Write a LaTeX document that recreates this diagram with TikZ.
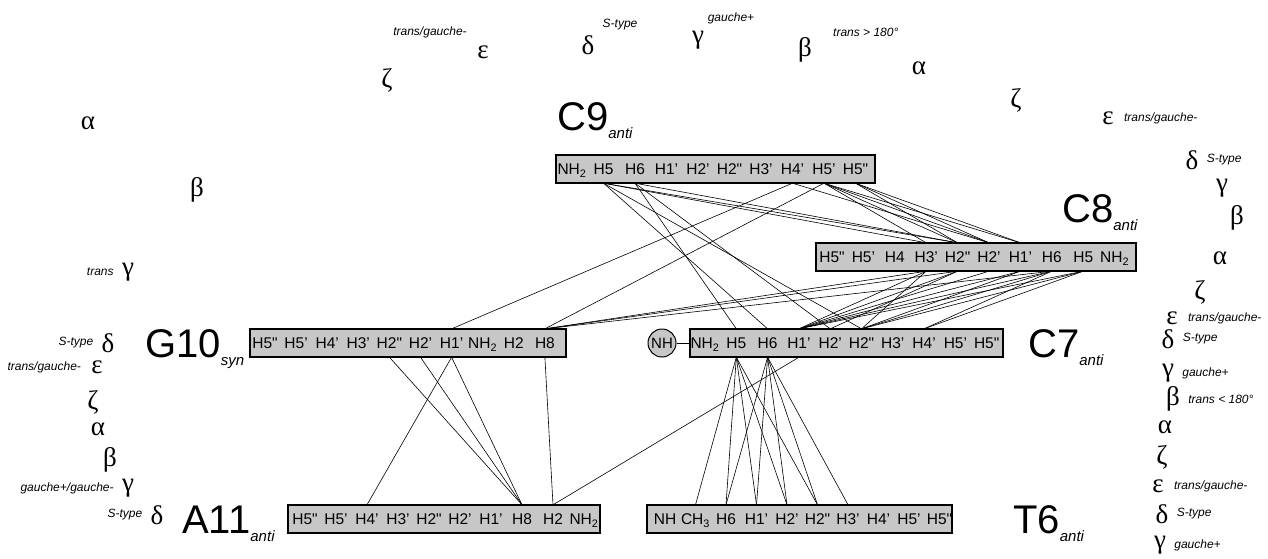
\documentclass[tikz,border=0pt]{standalone}
\usepackage{fontspec}
\setmainfont{Liberation Sans}
\newfontfamily\grkfont{Liberation Serif}
\usetikzlibrary{positioning, calc, shadows}
\tikzstyle{noe} = [line width=0.6pt, black]
\newcommand{\dq}{\textquotedbl}

\begin{document}
\begin{tikzpicture}[x=1pt, y=-1pt,
    resbox/.style={rectangle, draw=black, fill=black!22, line width=1.1pt,
                   minimum height=28pt, inner sep=0pt,
                   drop shadow={shadow xshift=1.2pt, shadow yshift=-1.2pt, fill=black, opacity=0.8}},
    hatom/.style={inner sep=0pt, minimum height=28pt, text height=11pt, text depth=0pt,
                  font=\fontsize{15.5}{15.5}\selectfont},
    resname/.style={anchor=base west, inner sep=0pt, font=\fontsize{40}{40}\selectfont},
    torsion/.style={inner sep=0pt, font=\grkfont\fontsize{27}{27}\selectfont},
    conf/.style={inner sep=0pt, font=\itshape\fontsize{12}{12}\selectfont}
]
\useasboundingbox (0,0) rectangle (1268,558);

% Residue C9 - top
\node[resbox, minimum width=319pt] (c9box) at (715.5,169) {};
\foreach \t [count=\i] in {NH\textsubscript{2},H5,H6,H1',H2',H2\dq,H3',H4',H5',H5\dq}
  \node[hatom] (c9-\i) at ({572+(\i-1)*31.5},169) {\t};
\node[resname] (c9name) at (557,130) {C9\raisebox{-8pt}{\fontsize{15}{15}\itshape anti}};

% Residue C8
\node[resbox, minimum width=320pt] (c8box) at (976,257) {};
\foreach \t [count=\i] in {H5\dq,H5',H4,H3',H2\dq,H2',H1',H6,H5,NH\textsubscript{2}}
  \node[hatom] (c8-\i) at ({832+(\i-1)*31.4},257) {\t};
\node[resname] (c8name) at (1062,222) {C8\raisebox{-8pt}{\fontsize{15}{15}\itshape anti}};

% Residue G10
\node[resbox, minimum width=316pt] (g10box) at (408,343) {};
\foreach \t [count=\i] in {H5\dq,H5',H4',H3',H2\dq,H2',H1',NH\textsubscript{2},H2,H8}
  \node[hatom] (g10-\i) at ({265+(\i-1)*31.1},343) {\t};
\node[resname] (g10name) at (145,357) {G10\raisebox{-8pt}{\fontsize{15}{15}\itshape syn}};

% Residue C7
\node[resbox, minimum width=313pt] (c7box) at (846.5,343) {};
\foreach \t [count=\i] in {NH\textsubscript{2},H5,H6,H1',H2',H2\dq,H3',H4',H5',H5\dq}
  \node[hatom] (c7-\i) at ({705+(\i-1)*31.3},343) {\t};
\node[circle, draw=black, fill=black!22, minimum size=28pt, inner sep=0pt, line width=1pt,
      font=\fontsize{15}{15}\selectfont] (nh) at (662,343) {NH};
\draw[line width=1pt] (nh) -- (c7box.west);
\node[resname] (c7name) at (1028,357) {C7\raisebox{-8pt}{\fontsize{15}{15}\itshape anti}};

% Residue A11 - bottom
\node[resbox, minimum width=312pt] (a11box) at (444,519) {};
\foreach \t [count=\i] in {H5\dq,H5',H4',H3',H2\dq,H2',H1',H8,H2,NH\textsubscript{2}}
  \node[hatom] (a11-\i) at ({305+(\i-1)*31},519) {\t};
\node[resname] (a11name) at (182,533) {A11\raisebox{-8pt}{\fontsize{15}{15}\itshape anti}};

% Residue T6
\node[resbox, minimum width=305pt] (t6box) at (799.5,519) {};
\foreach \t [count=\i] in {NH,CH\textsubscript{3},H6,H1',H2',H2\dq,H3',H4',H5',H5\dq}
  \node[hatom] (t6-\i) at ({665+(\i-1)*30.5},519) {\t};
\node[resname] (t6name) at (1013,533) {T6\raisebox{-8pt}{\fontsize{15}{15}\itshape anti}};

% Backbone torsions - top arc
\node[torsion] (ta1) at (88,123) {α};
\node[torsion] (tb1) at (197,190) {β};
\node[torsion] (tg1) at (128,272) {γ};
\node[conf, left=8pt of tg1] {trans};
\node[torsion] (tz2) at (387,80) {ζ};
\node[torsion] (te2) at (483,52) {ε};
\node[conf] at (430,32) {trans/gauche-};
\node[torsion] (td2) at (588,45) {δ};
\node[conf] at (620,25) {S-type};
\node[torsion] (tg2) at (698,40) {γ};
\node[conf] at (731,18) {gauche+};
\node[torsion] (tb2) at (805,50) {β};
\node[conf, anchor=west] at (833,32) {trans > 180°};
\node[torsion] (ta2) at (919,68) {α};
\node[torsion] (tz3) at (1016,100) {ζ};
\node[torsion] (te3) at (1108,118) {ε};
\node[conf, right=10pt of te3] {trans/gauche-};
\node[torsion] (td3) at (1192,160) {δ};
\node[conf, right=8pt of td3] {S-type};
\node[torsion] (tg3) at (1222,188) {γ};
\node[torsion] (tb3) at (1237,218) {β};
\node[torsion] (ta3) at (1220,258) {α};
\node[torsion] (tz4) at (1200,292) {ζ};
\node[torsion] (te4) at (1172,318) {ε};
\node[conf, right=10pt of te4] {trans/gauche-};
\node[torsion] (td4) at (1168,339) {δ};
\node[conf, right=8pt of td4] {S-type};
\node[torsion] (tg4) at (1168,373) {γ};
\node[conf, right=8pt of tg4] {gauche+};
\node[torsion] (tb4) at (1173,399) {β};
\node[conf, right=8pt of tb4] {trans < 180°};
\node[torsion] (ta4) at (1165,427) {α};
\node[torsion] (tz5) at (1162,457) {ζ};
\node[torsion] (te5) at (1158,486) {ε};
\node[conf, right=10pt of te5] {trans/gauche-};
\node[torsion] (td5) at (1162,514) {δ};
\node[conf, right=8pt of td5] {S-type};
\node[torsion] (tg5) at (1160,545) {γ};
\node[conf, right=8pt of tg5] {gauche+};

% Backbone torsions - left column
\node[torsion] (td6) at (108,343) {δ};
\node[conf, left=8pt of td6] {S-type};
\node[torsion] (te6) at (97,367) {ε};
\node[conf, left=10pt of te6] {trans/gauche-};
\node[torsion] (tz6) at (93,402) {ζ};
\node[torsion] (ta6) at (98,429) {α};
\node[torsion] (tb6) at (110,460) {β};
\node[torsion] (tg6) at (128,488) {γ};
\node[conf, left=8pt of tg6] {gauche+/gauche-};
\node[torsion] (td7) at (157,515) {δ};
\node[conf, left=8pt of td7] {S-type};

% NOE contacts
\foreach \a/\b in {c9-2/c8-4, c9-2/c8-5, c9-3/c8-5, c9-8/c8-6, c9-9/c8-4, c9-9/c8-5,
                   c9-9/c8-6, c9-9/c8-7, c9-10/c8-5, c9-10/c8-6, c9-10/c8-7,
                   c9-2/c7-3, c9-2/c7-6, c9-3/c7-2, c9-3/c7-5,
                   c9-8/g10-7, c9-9/g10-10,
                   c8-4/c7-4, c8-5/c7-4, c8-6/c7-4, c8-7/c7-4, c8-8/c7-4, c8-9/c7-4,
                   c8-4/c7-6, c8-5/c7-5, c8-7/c7-6, c8-8/c7-6, c8-9/c7-6, c8-8/c7-8, c8-9/c7-8,
                   c8-4/g10-10, c8-5/g10-10, c8-8/g10-10,
                   g10-5/a11-8, g10-6/a11-8, g10-7/a11-3, g10-7/a11-8, g10-10/a11-9,
                   c7-4/a11-9,
                   c7-2/t6-2, c7-2/t6-3, c7-2/t6-4, c7-2/t6-5, c7-2/t6-6,
                   c7-3/t6-3, c7-3/t6-4, c7-3/t6-5, c7-3/t6-6, c7-3/t6-7}
  \draw[noe] (\a.south) -- (\b.north);
\end{tikzpicture}
\end{document}
